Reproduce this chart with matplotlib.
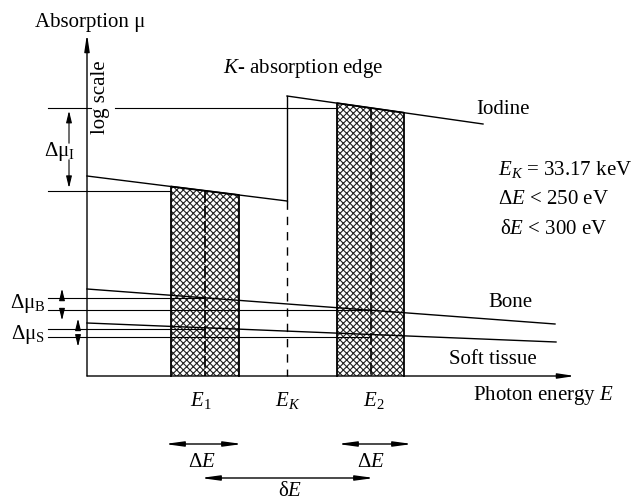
import matplotlib.pyplot as plt

plt.rcParams['font.family'] = ['Liberation Serif', 'DejaVu Serif']
plt.rcParams['mathtext.fontset'] = 'custom'
plt.rcParams['mathtext.rm'] = 'Liberation Serif'
plt.rcParams['mathtext.it'] = 'Liberation Serif:italic'
plt.rcParams['hatch.linewidth'] = 0.8

# diagram coordinates (x to the right, y downwards)
x_axis = [87, 575]
y_axis = [377, 35]
iodine_low_x = [87, 287]
iodine_low_y = [177, 202]
iodine_high_x = [287, 483]
iodine_high_y = [97, 125]
bone_x = [87, 555]
bone_y = [290, 325]
soft_x = [87, 556]
soft_y = [324, 343]
edge_x = 287
e1_box = [171, 239]
e2_box = [337, 404]
e_centers = [205, 371]
e_labels = ['$E_1$', '$E_2$']


def on_line(xs, ys, x):
    return ys[0] + (x - xs[0]) * (ys[1] - ys[0]) / (xs[1] - xs[0])


fig = plt.figure(figsize=(6.39, 5.02), dpi=100)
ax = fig.add_axes([0, 0, 1, 1])
ax.set_xlim(0, 639)
ax.set_ylim(502, 0)
ax.axis('off')

lw = 1.0
k = 'black'

# axes with arrows
ax.annotate('', xy=(x_axis[1], y_axis[0]), xytext=(x_axis[0], y_axis[0]),
            arrowprops=dict(arrowstyle='-|>,head_length=1.0,head_width=0.15', color=k, lw=lw,
                            shrinkA=0, shrinkB=0))
ax.annotate('', xy=(x_axis[0], y_axis[1]), xytext=(x_axis[0], y_axis[0]),
            arrowprops=dict(arrowstyle='-|>,head_length=1.0,head_width=0.15', color=k, lw=lw,
                            shrinkA=0, shrinkB=0))

# hatched energy windows
for (x0, x1), xs, ys in [(e1_box, iodine_low_x, iodine_low_y), (e2_box, iodine_high_x, iodine_high_y)]:
    top = [on_line(xs, ys, x0), on_line(xs, ys, x1)]
    ax.fill_between([x0, x1], top, [377, 377], facecolor='white', edgecolor='#222222',
                    hatch='xxxxx', lw=0, zorder=1)
    ax.plot([x0, x0, x1, x1], [377, top[0], top[1], 377], color=k, lw=1.3, zorder=3)

# center dashed lines in the windows
ax.plot([e_centers[0]] * 2, [on_line(iodine_low_x, iodine_low_y, e_centers[0]), 377],
        color=k, lw=1.2, dashes=(7, 2), zorder=3)
ax.plot([e_centers[1]] * 2, [on_line(iodine_high_x, iodine_high_y, e_centers[1]), 377],
        color=k, lw=1.2, dashes=(7, 2), zorder=3)

# iodine curve with K-edge
ax.plot(iodine_low_x, iodine_low_y, color=k, lw=lw, zorder=4)
ax.plot([edge_x, edge_x], [iodine_low_y[1], iodine_high_y[0]], color=k, lw=lw, zorder=4)
ax.plot(iodine_high_x, iodine_high_y, color=k, lw=lw, zorder=4)
ax.plot([edge_x, edge_x], [iodine_low_y[1], 377], color=k, lw=lw, dashes=(6, 5), zorder=4)

# bone and soft tissue
ax.plot(bone_x, bone_y, color=k, lw=lw, zorder=4)
ax.plot(soft_x, soft_y, color=k, lw=lw, zorder=4)

# reference lines for delta mu
mu_i_hi = on_line(iodine_high_x, iodine_high_y, e_centers[1])
mu_i_lo = on_line(iodine_low_x, iodine_low_y, e_centers[0])
ax.plot([48, 91], [mu_i_hi] * 2, color=k, lw=0.8, zorder=4)
ax.plot([115, e2_box[0]], [mu_i_hi] * 2, color=k, lw=0.8, zorder=4)
ax.plot([48, e1_box[0]], [mu_i_lo] * 2, color=k, lw=0.8, zorder=4)

mu_b = [on_line(bone_x, bone_y, e_centers[0]), on_line(bone_x, bone_y, e_centers[1])]
mu_s = [on_line(soft_x, soft_y, e_centers[0]), on_line(soft_x, soft_y, e_centers[1])]
for yv, xe in [(mu_b[0], e_centers[0]), (mu_b[1], e_centers[1]),
               (mu_s[0] + 1, e_centers[0]), (mu_s[1] + 2, e_centers[1])]:
    ax.plot([48, xe], [yv, yv], color=k, lw=0.8, zorder=4)

aprops = dict(arrowstyle='-|>,head_length=0.7,head_width=0.17', color=k, lw=0.8)
ax.annotate('', xy=(69, mu_i_hi), xytext=(69, 147), arrowprops=aprops)
ax.annotate('', xy=(69, mu_i_lo), xytext=(69, 158), arrowprops=aprops)
ax.annotate('', xy=(62, mu_b[0] - 12), xytext=(62, mu_b[0]), arrowprops=aprops)
ax.annotate('', xy=(62, mu_b[1] + 13), xytext=(62, mu_b[1]), arrowprops=aprops)
ax.annotate('', xy=(78, mu_s[0] - 12), xytext=(78, mu_s[0] + 1), arrowprops=aprops)
ax.annotate('', xy=(78, mu_s[1] + 15), xytext=(78, mu_s[1] + 2), arrowprops=aprops)

# energy width arrows
bprops = dict(arrowstyle='<|-|>,head_length=1.1,head_width=0.15', color=k, lw=1.0)
ax.annotate('', xy=(162, 445), xytext=(245, 445), arrowprops=bprops)
ax.annotate('', xy=(335, 445), xytext=(415, 445), arrowprops=bprops)
ax.annotate('', xy=(198, 479), xytext=(377, 479), arrowprops=bprops)

fs = 15
ax.text(90, 22, 'Absorption μ', fontsize=fs, ha='center', va='center')
ax.text(101, 97, 'log scale', fontsize=fs, rotation=90, ha='center', va='center')
ax.text(303, 68, '$K$- absorption edge', fontsize=fs, ha='center', va='center')
ax.text(503, 110, 'Iodine', fontsize=fs, ha='center', va='center')
ax.text(498, 170, '$E_K$ = 33.17 keV', fontsize=fs, ha='left', va='center')
ax.text(498, 200, 'Δ$E$ < 250 eV', fontsize=fs, ha='left', va='center')
ax.text(500, 230, 'δ$E$ < 300 eV', fontsize=fs, ha='left', va='center')
ax.text(510, 303, 'Bone', fontsize=fs, ha='center', va='center')
ax.text(493, 360, 'Soft tissue', fontsize=fs, ha='center', va='center')
ax.text(543, 396, 'Photon energy $E$', fontsize=fs, ha='center', va='center')
ax.text(60, 152, 'Δμ$_\\mathrm{I}$', fontsize=fs, ha='center', va='center')
ax.text(28, 304, 'Δμ$_\\mathrm{B}$', fontsize=fs, ha='center', va='center')
ax.text(28, 335, 'Δμ$_\\mathrm{S}$', fontsize=fs, ha='center', va='center')
ax.text(e_centers[0] - 4, 401, e_labels[0], fontsize=fs, ha='center', va='center')
ax.text(edge_x + 1, 401, '$E_K$', fontsize=fs, ha='center', va='center')
ax.text(e_centers[1] + 3, 401, e_labels[1], fontsize=fs, ha='center', va='center')
ax.text(202, 463, 'Δ$E$', fontsize=fs, ha='center', va='center')
ax.text(371, 463, 'Δ$E$', fontsize=fs, ha='center', va='center')
ax.text(290, 492, 'δ$E$', fontsize=fs, ha='center', va='center')

fig.savefig('out.png', dpi=100)
